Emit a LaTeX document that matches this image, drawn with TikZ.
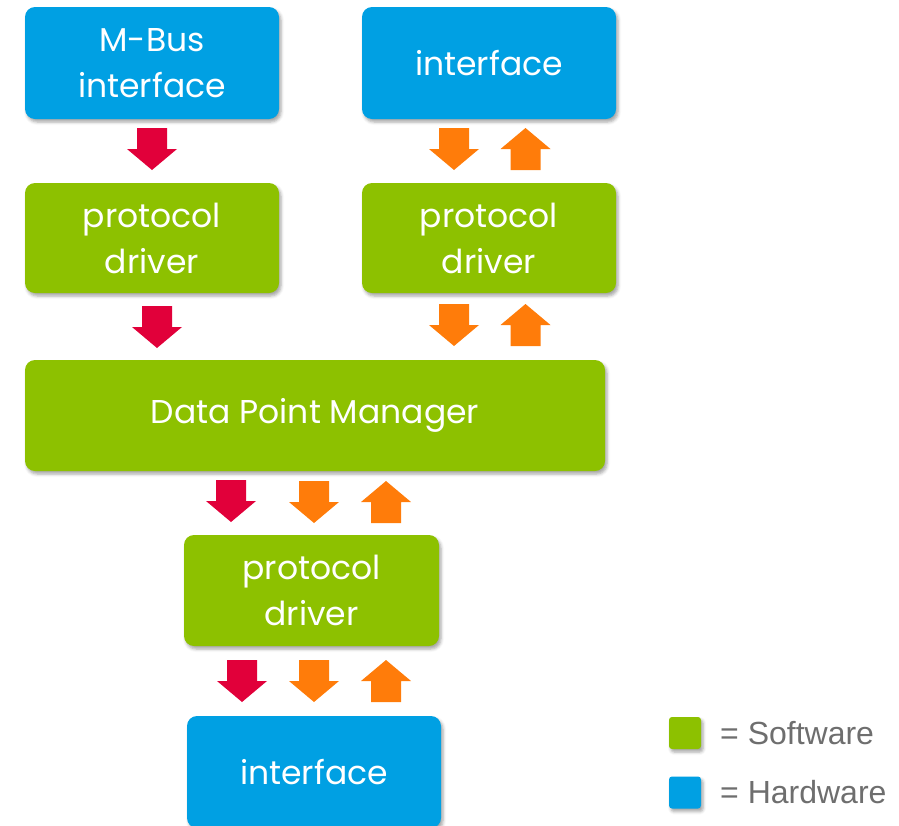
\documentclass[tikz,border=0pt]{standalone}
\usepackage{fontspec}
\setmainfont{Poppins}
\newfontfamily\legendfont{Liberation Sans}
\usetikzlibrary{shadows.blur}
\definecolor{hwblue}{RGB}{0,160,227}
\definecolor{swgreen}{RGB}{141,193,0}
\definecolor{flowred}{RGB}{225,0,58}
\definecolor{floworange}{RGB}{255,124,10}
\definecolor{legendgray}{RGB}{110,110,110}
\tikzset{
  softshadow/.style={blur shadow={shadow xshift=2pt,shadow yshift=-3pt,shadow opacity=35,shadow blur radius=3pt}},
  box/.style={rounded corners=10pt, text=white, align=center, inner sep=0pt,
    font=\fontsize{33}{46}\selectfont, softshadow},
  hw/.style={box, fill=hwblue},
  sw/.style={box, fill=swgreen},
  narrow/.style={minimum width=254pt, minimum height=112pt},
  legsq/.style={rounded corners=3pt, minimum width=32pt, minimum height=32pt, inner sep=0pt, softshadow},
  legtxt/.style={anchor=west, inner sep=0pt, text=legendgray, font=\legendfont\fontsize{32}{38}\selectfont},
  downarr/.pic={\fill[pic actions] (-15,0) -- (15,0) -- (15,21) -- (25,21) -- (0,42) -- (-25,21) -- (-15,21) -- cycle;},
  uparr/.pic={\fill[pic actions] (0,0) -- (25,21) -- (15,21) -- (15,42) -- (-15,42) -- (-15,21) -- (-25,21) -- cycle;},
  redflow/.style={fill=flowred, softshadow},
  orflow/.style={fill=floworange, softshadow}
}
\begin{document}
\begin{tikzpicture}[x=1pt,y=-1pt]
\useasboundingbox (0,0) rectangle (899,825);
\clip (0,0) rectangle (899,825);
% boxes
\node[hw, narrow] (mbus) at (152,63) {M-Bus\\interface};
\node[hw, narrow] (iftop) at (489,63) {interface};
\node[sw, minimum width=254pt, minimum height=110pt] (pdleft) at (152,238) {protocol\\driver};
\node[sw, minimum width=254pt, minimum height=110pt] (pdright) at (489,238) {protocol\\driver};
\node[sw, minimum width=580pt, minimum height=111pt] (dpm) at (315,415.5) {Data Point Manager};
\node[sw, minimum width=255pt, minimum height=111pt] (pdbot) at (311.5,590.5) {protocol\\driver};
\node[hw, narrow] (ifbot) at (314,772) {interface};
% arrows row 1
\pic[redflow] (a1) at (152,128) {downarr};
\pic[orflow] (a2) at (454,128) {downarr};
\pic[orflow] (a3) at (525.5,128) {uparr};
% row 2
\pic[redflow] (b1) at (157,306) {downarr};
\pic[orflow] (b2) at (454,304) {downarr};
\pic[orflow] (b3) at (525.5,304) {uparr};
% row 3
\pic[redflow] (c1) at (231,480) {downarr};
\pic[orflow] (c2) at (314,481) {downarr};
\pic[orflow] (c3) at (386,481) {uparr};
% row 4
\pic[redflow] (d1) at (242,660) {downarr};
\pic[orflow] (d2) at (314,660) {downarr};
\pic[orflow] (d3) at (386,660) {uparr};
% legend
\node[legsq, fill=swgreen] (lsw) at (685,733) {};
\node[legtxt] (lswt) at (720,733) {= Software};
\node[legsq, fill=hwblue] (lhw) at (685,792.5) {};
\node[legtxt] (lhwt) at (720,792.5) {= Hardware};
\end{tikzpicture}
\end{document}
